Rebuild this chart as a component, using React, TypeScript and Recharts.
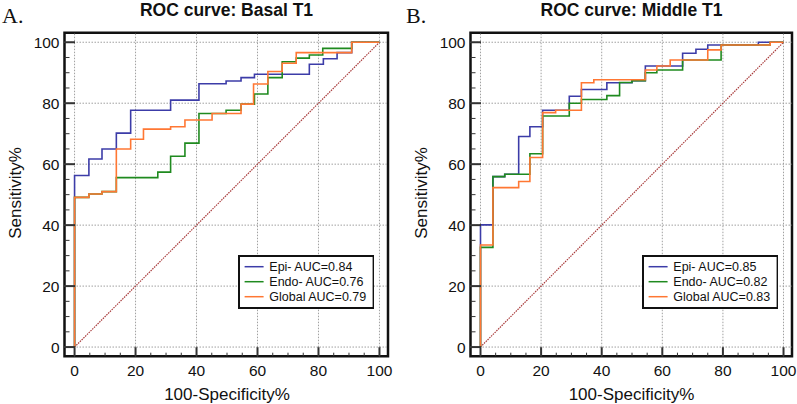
import React from "react";
import {
	LineChart,
	Line,
	XAxis,
	YAxis,
	ReferenceLine,
	ReferenceArea,
	Legend,
} from "recharts";

type Pt = [number, number];

// ROC points: [100-Specificity%, Sensitivity%] after each vertical step
const basalEpi: Pt[] = [[0, 0], [0, 56.3], [4.7, 61.7], [9.0, 65.0], [13.7, 70.2], [18.4, 77.7], [31.5, 81.0], [40.8, 86.4], [49.7, 87.3], [54.6, 88.4], [59.0, 89.5], [77.0, 92.8], [81.6, 94.6], [86.1, 96.6], [90.9, 100], [100, 100]];
const basalEndo: Pt[] = [[0, 0], [0, 49.1], [4.7, 50.2], [9.0, 51.0], [13.7, 55.6], [27.3, 57.4], [31.5, 62.6], [36.2, 66.9], [40.8, 76.6], [49.7, 77.7], [54.6, 79.7], [59.0, 83.0], [63.4, 88.4], [68.1, 93.6], [72.7, 94.8], [77.0, 95.8], [81.4, 98.0], [90.9, 100], [100, 100]];
const basalGlobal: Pt[] = [[0, 0], [0, 49.1], [4.7, 50.2], [9.0, 51.0], [13.7, 65.0], [18.4, 68.2], [22.6, 71.5], [31.5, 72.3], [36.2, 74.5], [45.1, 76.6], [54.6, 79.7], [58.7, 86.3], [63.4, 90.4], [68.1, 93.1], [72.7, 96.6], [90.9, 100], [100, 100]];

const middleEpi: Pt[] = [[0, 0], [0, 40.1], [4.1, 55.9], [8.0, 56.7], [12.6, 69.1], [16.3, 72.3], [20.5, 77.7], [29.3, 82.3], [33.3, 84.5], [41.7, 86.7], [50.0, 87.4], [54.4, 92.2], [66.7, 96.4], [71.1, 97.7], [75.0, 99.1], [91.7, 100], [100, 100]];
const middleEndo: Pt[] = [[0, 0], [0, 32.7], [4.1, 55.9], [8.0, 56.7], [16.3, 63.4], [20.5, 75.8], [29.3, 80.0], [33.3, 81.2], [41.7, 82.5], [45.9, 86.8], [50.0, 87.4], [54.4, 90.0], [58.2, 90.9], [66.7, 94.2], [79.4, 99.1], [95.6, 100], [100, 100]];
const middleGlobal: Pt[] = [[0, 0], [0, 33.5], [4.1, 52.3], [12.6, 54.3], [16.3, 62.2], [20.5, 76.9], [24.8, 77.7], [33.3, 86.7], [37.4, 87.7], [54.4, 90.9], [58.2, 92.2], [62.6, 94.2], [75.0, 97.5], [79.4, 99.1], [95.6, 100], [100, 100]];

const seriesNames = ["Epi- AUC=", "Endo- AUC=", "Global AUC="];
const basalAuc = ["0.84", "0.76", "0.79"];
const middleAuc = ["0.85", "0.82", "0.83"];
const seriesColors = ["#3c3ca8", "#1f8a1f", "#ff7733"];

const gridValues = [0, 20, 40, 60, 80, 100];
const axisTicks = [0, 5, 10, 15, 20, 25, 30, 35, 40, 45, 50, 55, 60, 65, 70, 75, 80, 85, 90, 95, 100];

const FONT = "'Liberation Sans', Arial, sans-serif";
const X_DOMAIN: [number, number] = [-3.3, 102.8];
const Y_DOMAIN: [number, number] = [-3, 103.1];

const toRows = (pts: Pt[]) => pts.map(([x, y]) => ({ x, y }));

const XTick = (props: any) => {
	const { x, y, payload } = props;
	const major = payload.value % 20 === 0;
	return (
		<g>
			<line x1={x} x2={x} y1={y} y2={y - (major ? 9 : 3.5)} stroke="#333" strokeWidth={major ? 2 : 1} />
			{major && (
				<text x={x} y={y + 19.5} textAnchor="middle" fontSize={15.5} fontFamily={FONT} fill="#111">
					{payload.value}
				</text>
			)}
		</g>
	);
};

const YTick = (props: any) => {
	const { x, y, payload } = props;
	const major = payload.value % 20 === 0;
	return (
		<g>
			<line x1={x} x2={x + (major ? 10.5 : 5)} y1={y} y2={y} stroke="#333" strokeWidth={major ? 2 : 1} />
			{major && (
				<text x={x - 5} y={y + 5.5} textAnchor="end" fontSize={15.5} fontFamily={FONT} fill="#111">
					{payload.value}
				</text>
			)}
		</g>
	);
};

const LegendBox = ({ auc }: { auc: string[] }) => (
	<svg width={136.6} height={54} style={{ display: "block" }}>
		<rect x={1} y={1} width={134.6} height={52} fill="#fff" stroke="#111" strokeWidth={2} />
		{seriesNames.map((name, i) => (
			<g key={name}>
				<line x1={6.6} x2={25.6} y1={11.7 + i * 15} y2={11.7 + i * 15} stroke={seriesColors[i]} strokeWidth={1.5} />
				<text x={31.3} y={16 + i * 15} fontSize={12.5} fontFamily={FONT} fill="#111">
					{name + auc[i]}
				</text>
			</g>
		))}
	</svg>
);

const RocPanel = ({
	series,
	auc,
	width,
	marginLeft,
	marginRight,
}: {
	series: Pt[][];
	auc: string[];
	width: number;
	marginLeft: number;
	marginRight: number;
}): JSX.Element => {
	const plotRight = width - marginRight;
	return (
		<LineChart
			width={width}
			height={404}
			margin={{ top: 32.8, right: marginRight, bottom: 46.8, left: marginLeft - 1 }}
		>
			<XAxis
				type="number"
				dataKey="x"
				domain={X_DOMAIN}
				ticks={axisTicks}
				interval={0}
				height={1}
				tickSize={0}
				tickMargin={0}
				axisLine={false}
				tickLine={false}
				tick={<XTick />}
				allowDataOverflow
			/>
			<YAxis
				type="number"
				dataKey="y"
				domain={Y_DOMAIN}
				ticks={axisTicks}
				interval={0}
				width={1}
				tickSize={0}
				tickMargin={0}
				axisLine={false}
				tickLine={false}
				tick={<YTick />}
				allowDataOverflow
			/>
			{gridValues.map((v) => (
				<ReferenceLine key={"gx" + v} x={v} stroke="#a0a0a0" strokeDasharray="1.5 1.5" ifOverflow="visible" />
			))}
			{gridValues.map((v) => (
				<ReferenceLine key={"gy" + v} y={v} stroke="#a0a0a0" strokeDasharray="1.5 1.5" ifOverflow="visible" />
			))}
			<ReferenceLine
				segment={[{ x: 0, y: 0 }, { x: 100, y: 100 }]}
				stroke="#a83a3a"
				strokeWidth={1.2}
				strokeDasharray="1.5 1"
				ifOverflow="visible"
			/>
			{series.map((s, i) => (
				<Line
					key={seriesNames[i]}
					data={toRows(s)}
					dataKey="y"
					type="stepAfter"
					stroke={seriesColors[i]}
					strokeWidth={1.6}
					dot={false}
					activeDot={false}
					isAnimationActive={false}
				/>
			))}
			<ReferenceArea
				x1={X_DOMAIN[0]}
				x2={X_DOMAIN[1]}
				y1={Y_DOMAIN[0]}
				y2={Y_DOMAIN[1]}
				fill="none"
				stroke="#111"
				strokeWidth={2.5}
				ifOverflow="visible"
			/>
			<Legend
				layout="vertical"
				align="center"
				verticalAlign="middle"
				wrapperStyle={{ left: plotRight - 150.3, top: 255, width: 136.6, height: 54 }}
				content={() => <LegendBox auc={auc} />}
			/>
		</LineChart>
	);
};

const App = () => {
	return (
		<div style={{ position: "absolute", left: 0, top: 0, width: 797, height: 404, background: "#fff" }}>
			<div style={{ position: "absolute", left: 0, top: 0 }}>
				<RocPanel series={[basalEpi, basalEndo, basalGlobal]} auc={basalAuc} width={400} marginLeft={64.5} marginRight={12} />
			</div>
			<div style={{ position: "absolute", left: 400, top: 0 }}>
				<RocPanel series={[middleEpi, middleEndo, middleGlobal]} auc={middleAuc} width={397} marginLeft={70.5} marginRight={5} />
			</div>
			<svg width={797} height={404} style={{ position: "absolute", left: 0, top: 0, pointerEvents: "none" }}>
				<text x={2} y={22.7} fontSize={22} fontFamily="'Liberation Serif', 'Times New Roman', serif" fill="#111">A.</text>
				<text x={406} y={22.7} fontSize={22} fontFamily="'Liberation Serif', 'Times New Roman', serif" fill="#111">B.</text>
				<text x={226.5} y={16} textAnchor="middle" fontSize={17.5} fontWeight="bold" fontFamily={FONT} fill="#111">ROC curve: Basal T1</text>
				<text x={631.5} y={16} textAnchor="middle" fontSize={17.5} fontWeight="bold" fontFamily={FONT} fill="#111">ROC curve: Middle T1</text>
				<text x={227} y={400} textAnchor="middle" fontSize={17} fontFamily={FONT} fill="#111">100-Specificity%</text>
				<text x={631.5} y={400} textAnchor="middle" fontSize={17} fontFamily={FONT} fill="#111">100-Specificity%</text>
				<text transform="translate(20.5,193) rotate(-90)" textAnchor="middle" fontSize={17} fontFamily={FONT} fill="#111">Sensitivity%</text>
				<text transform="translate(426.5,193) rotate(-90)" textAnchor="middle" fontSize={17} fontFamily={FONT} fill="#111">Sensitivity%</text>
			</svg>
		</div>
	);
};

export default App;
